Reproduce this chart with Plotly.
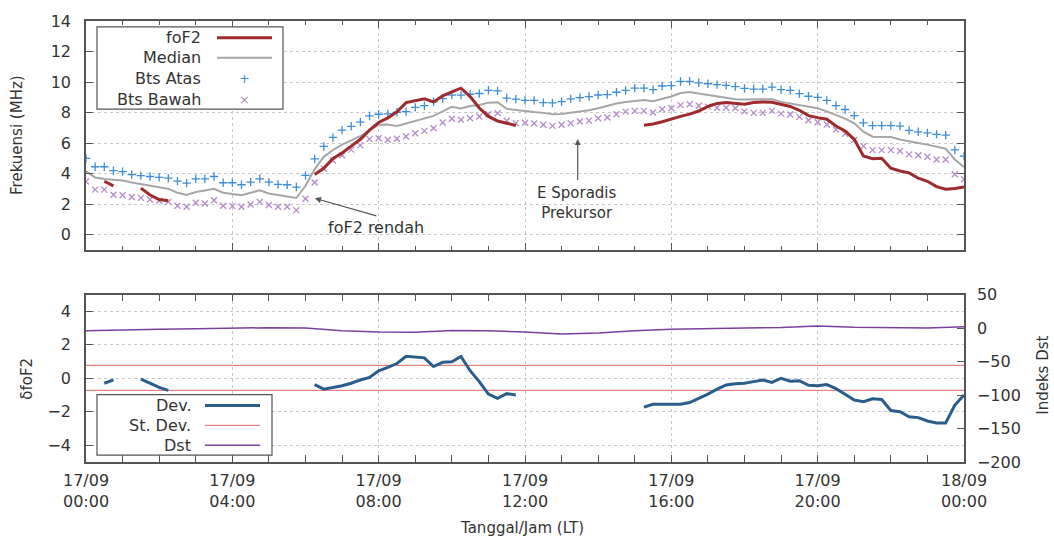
import plotly.graph_objects as go

# ---------------- data ----------------
# quarter-hour sampling (hours since 17/09 00:00 LT)
quarter_hours = [i / 4 for i in range(97)]

bts_atas = [
    5.00, 4.45, 4.45, 4.19, 4.13, 3.94, 3.87, 3.81,
    3.76, 3.70, 3.51, 3.38, 3.66, 3.66, 3.81, 3.40,
    3.40, 3.27, 3.44, 3.66, 3.44, 3.29, 3.27, 3.12,
    3.88, 4.96, 5.78, 6.37, 6.85, 7.10, 7.38, 7.78,
    7.89, 7.91, 8.02, 8.06, 8.34, 8.45, 8.71, 8.92,
    9.14, 9.14, 9.20, 9.25, 9.46, 9.42, 8.95, 8.88,
    8.80, 8.80, 8.65, 8.63, 8.72, 8.90, 8.98, 9.05,
    9.15, 9.18, 9.33, 9.45, 9.60, 9.60, 9.50, 9.74,
    9.77, 10.04, 10.05, 9.95, 9.89, 9.83, 9.78, 9.70,
    9.58, 9.54, 9.54, 9.67, 9.50, 9.46, 9.24, 9.07,
    9.00, 8.80, 8.46, 8.20, 7.80, 7.33, 7.15, 7.15,
    7.15, 7.11, 6.83, 6.74, 6.67, 6.57, 6.52, 5.55,
    5.15]

bts_bawah = [
    3.48, 2.95, 2.95, 2.62, 2.58, 2.47, 2.41, 2.30,
    2.22, 2.15, 1.89, 1.83, 2.09, 2.04, 2.26, 1.89,
    1.87, 1.83, 1.98, 2.15, 1.94, 1.83, 1.83, 1.61,
    2.35, 3.42, 4.34, 4.86, 5.20, 5.57, 5.85, 6.26,
    6.32, 6.22, 6.28, 6.43, 6.65, 6.80, 6.97, 7.35,
    7.60, 7.53, 7.63, 7.74, 7.89, 7.96, 7.46, 7.31,
    7.33, 7.28, 7.20, 7.13, 7.20, 7.30, 7.42, 7.47,
    7.63, 7.68, 7.89, 8.06, 8.11, 8.11, 8.00, 8.22,
    8.28, 8.49, 8.54, 8.45, 8.39, 8.32, 8.32, 8.28,
    8.08, 7.98, 7.98, 8.13, 7.93, 7.87, 7.72, 7.50,
    7.37, 7.22, 6.89, 6.61, 6.20, 5.80, 5.54, 5.54,
    5.54, 5.48, 5.26, 5.20, 5.11, 4.93, 4.93, 3.96,
    3.63]

median = [
    4.15, 3.75, 3.65, 3.60, 3.55, 3.42, 3.30, 3.20,
    3.10, 3.00, 2.75, 2.60, 2.80, 2.90, 3.00, 2.75,
    2.65, 2.58, 2.75, 2.90, 2.70, 2.60, 2.50, 2.40,
    3.20, 4.30, 5.10, 5.55, 5.90, 6.15, 6.45, 6.85,
    7.20, 7.22, 7.12, 7.28, 7.45, 7.62, 7.78, 8.08,
    8.38, 8.27, 8.43, 8.50, 8.65, 8.68, 8.25, 8.17,
    8.08, 8.03, 7.98, 7.89, 7.90, 7.98, 8.06, 8.15,
    8.28, 8.45, 8.60, 8.70, 8.76, 8.82, 8.75, 8.90,
    9.05, 9.28, 9.35, 9.25, 9.15, 9.05, 8.97, 8.88,
    8.85, 8.85, 8.87, 8.88, 8.70, 8.60, 8.52, 8.40,
    8.28, 8.08, 7.85, 7.60, 7.30, 6.75, 6.42, 6.41,
    6.40, 6.24, 6.10, 6.00, 5.90, 5.78, 5.63, 4.93,
    4.43]

N = None
fof2 = [
    N, N, 3.50, 3.20, N, N, 3.05, 2.60,
    2.30, 2.22, N, N, N, N, N, N,
    N, N, N, N, N, N, N, N,
    N, 3.95, 4.35, 5.00, 5.35, 5.80, 6.25, 6.85,
    7.35, 7.65, 8.05, 8.65, 8.80, 8.90, 8.70, 9.10,
    9.35, 9.60, 9.05, 8.30, 7.75, 7.45, 7.30, 7.15,
    N, N, N, N, N, N, N, N,
    N, N, N, N, N, 7.17, 7.25, 7.40,
    7.60, 7.75, 7.90, 8.10, 8.40, 8.60, 8.66, 8.60,
    8.55, 8.66, 8.70, 8.67, 8.55, 8.40, 8.15, 7.80,
    7.67, 7.56, 7.12, 6.80, 6.25, 5.15, 4.98, 5.00,
    4.35, 4.17, 4.05, 3.70, 3.50, 3.15, 2.98, 3.02,
    3.12]

dev = [
    N, N, -0.30, -0.10, N, N, -0.05, -0.30,
    -0.55, -0.72, N, N, N, N, N, N,
    N, N, N, N, N, N, N, N,
    N, -0.38, -0.65, -0.55, -0.45, -0.30, -0.10, 0.05,
    0.45, 0.65, 0.88, 1.31, 1.25, 1.22, 0.70, 0.95,
    0.98, 1.30, 0.45, -0.20, -0.95, -1.20, -0.92, -1.00,
    N, N, N, N, N, N, N, N,
    N, N, N, N, N, -1.72, -1.55, -1.55,
    -1.55, -1.55, -1.45, -1.20, -0.95, -0.65, -0.40, -0.33,
    -0.30, -0.20, -0.10, -0.25, 0.00, -0.18, -0.15, -0.42,
    -0.45, -0.38, -0.62, -0.95, -1.30, -1.40, -1.23, -1.27,
    -1.93, -2.00, -2.30, -2.35, -2.55, -2.67, -2.67, -1.60,
    -1.00]

# hourly Dst index
dst_hours = list(range(25))
dst = [-4, -3.5, -2, -1, 0, 0.5, 0, -4, -6, -6.5, -3.7, -4, -6,
       -9, -7.5, -4, -2, -1.5, 0, 0.8, 3, 1, 0, 0, 1.8]

# standard-deviation limits of δfoF2
stdev_span = [0, 24]
stdev_upper = 0.77
stdev_lower = -0.72

# axis ticks
major_ticks = [0, 4, 8, 12, 16, 20, 24]
tick_labels = ["17/09<br>00:00", "17/09<br>04:00", "17/09<br>08:00",
               "17/09<br>12:00", "17/09<br>16:00", "17/09<br>20:00",
               "18/09<br>00:00"]

# ---------------- style ----------------
FONT = "DejaVu Sans"
TXT = "#333333"
FRAME = "#555555"
GRID = "#c8c8c8"
C_FOF2 = "#9e2a2b"
C_MED = "#a6a6a6"
C_ATAS = "#3d8ed8"
C_BAWAH = "#b58ac8"
C_DEV = "#2b5d8c"
C_STD = "#e06666"
C_DST = "#7b3f9e"

# layout geometry (pixels)
W, H = 1054, 540
L, R, T, B = 86, 964, 17, 462


def px(x):
    return (x - L) / (R - L)


def py(y):
    return (B - y) / (B - T)


fig = go.Figure()

# ---- top panel ----
fig.add_trace(go.Scatter(x=quarter_hours, y=bts_atas, mode="markers", name="Bts Atas",
                         marker=dict(symbol="cross-thin", size=6, line=dict(color=C_ATAS, width=1.3)),
                         xaxis="x", yaxis="y"))
fig.add_trace(go.Scatter(x=quarter_hours, y=bts_bawah, mode="markers", name="Bts Bawah",
                         marker=dict(symbol="x-thin", size=6, line=dict(color=C_BAWAH, width=1.3)),
                         xaxis="x", yaxis="y"))
fig.add_trace(go.Scatter(x=quarter_hours, y=median, mode="lines", name="Median",
                         line=dict(color=C_MED, width=2), xaxis="x", yaxis="y"))
fig.add_trace(go.Scatter(x=quarter_hours, y=fof2, mode="lines", name="foF2",
                         line=dict(color=C_FOF2, width=3), connectgaps=False,
                         xaxis="x", yaxis="y"))

# ---- bottom panel ----
fig.add_trace(go.Scatter(x=stdev_span, y=[stdev_upper] * 2, mode="lines", name="St. Dev.",
                         line=dict(color=C_STD, width=1), xaxis="x2", yaxis="y2"))
fig.add_trace(go.Scatter(x=stdev_span, y=[stdev_lower] * 2, mode="lines", showlegend=False,
                         line=dict(color=C_STD, width=1), xaxis="x2", yaxis="y2"))
fig.add_trace(go.Scatter(x=dst_hours, y=dst, mode="lines", name="Dst",
                         line=dict(color=C_DST, width=1.5), xaxis="x2", yaxis="y3"))
fig.add_trace(go.Scatter(x=quarter_hours, y=dev, mode="lines", name="Dev.",
                         line=dict(color=C_DEV, width=3), connectgaps=False,
                         xaxis="x2", yaxis="y2"))

axis_common = dict(showline=True, linecolor=FRAME, linewidth=1.5, ticks="inside",
                   tickcolor=FRAME, ticklen=7, tickwidth=1, zeroline=False,
                   tickfont=dict(family=FONT, size=16, color=TXT))
grid = dict(showgrid=True, gridcolor=GRID, griddash="dot", gridwidth=1)
minor = dict(dtick=1, tick0=0, ticks="inside", ticklen=4, tickcolor=FRAME, showgrid=False)

top_dom = [py(248), 1.0]
bot_dom = [0.0, py(293)]

fig.update_layout(
    width=W, height=H,
    margin=dict(l=L, r=W - R, t=T, b=H - B),
    paper_bgcolor="white", plot_bgcolor="white",
    showlegend=False,
    font=dict(family=FONT, color=TXT, size=16),
    xaxis=dict(domain=[0, 1], anchor="y", range=[0, 24], tickvals=major_ticks,
               showticklabels=False, mirror="allticks", minor=minor, **grid, **axis_common),
    yaxis=dict(domain=top_dom, anchor="x", range=[-1, 14], tick0=0, dtick=2,
               mirror="allticks", ticklabelstandoff=10, **grid, **axis_common),
    xaxis2=dict(domain=[0, 1], anchor="y2", range=[0, 24], tickvals=major_ticks,
                ticktext=tick_labels, mirror="allticks", minor=minor,
                ticklabelstandoff=3, **grid, **axis_common),
    yaxis2=dict(domain=bot_dom, anchor="x2", range=[-5, 5], tickvals=[-4, -2, 0, 2, 4],
                mirror=True, ticklabelstandoff=10, **grid, **axis_common),
    yaxis3=dict(overlaying="y2", anchor="x2", side="right", range=[-200, 50],
                tickvals=[-200, -150, -100, -50, 0, 50], showgrid=False,
                ticklabelstandoff=8, **axis_common),
)

ann = []
shapes = []


def text(label, x, y, size=15, angle=0, xa="center", color=None, xref="paper", yref="paper"):
    f = dict(size=size)
    if color:
        f["color"] = color
    return dict(text=label, x=x, y=y, xref=xref, yref=yref, textangle=angle,
                xanchor=xa, yanchor="middle", showarrow=False, font=f)


# axis titles
ann.append(text("Frekuensi (MHz)", px(17), py(132), angle=-90))
ann.append(text("δfoF2", px(27), py(378), angle=-90))
ann.append(text("Indeks Dst", px(1043), py(375), angle=-90))
ann.append(text("Tanggal/Jam (LT)", px(522), py(529)))

# callouts in the top panel
ann.append(dict(x=6.26, y=2.38, ax=7.98, ay=1.2, xref="x", yref="y", axref="x", ayref="y",
                text="", showarrow=True, arrowhead=2, arrowsize=1, arrowwidth=1.2,
                arrowcolor="#555555"))
ann.append(text("foF2 rendah", 7.92, 0.5, size=16, xref="x", yref="y"))
ann.append(dict(x=13.44, y=6.27, ax=13.44, ay=3.48, xref="x", yref="y", axref="x", ayref="y",
                text="", showarrow=True, arrowhead=2, arrowsize=1, arrowwidth=1.2,
                arrowcolor="#555555"))
ann.append(text("E Sporadis<br>Prekursor", 13.43, 2.08, size=15, xref="x", yref="y"))

# top legend (gnuplot style: text right-aligned, sample on the right)
shapes.append(dict(type="rect", xref="paper", yref="paper", x0=px(97), x1=px(283),
                   y0=py(106), y1=py(23), line=dict(color=FRAME, width=1.2),
                   fillcolor="white", layer="above"))
top_rows = [("foF2", 34), ("Median", 54), ("Bts Atas", 75), ("Bts Bawah", 96)]
for label, yy in top_rows:
    ann.append(text(label, px(203), py(yy), size=16, xa="right"))
shapes.append(dict(type="line", xref="paper", yref="paper", x0=px(217), x1=px(272),
                   y0=py(34), y1=py(34), line=dict(color=C_FOF2, width=3), layer="above"))
shapes.append(dict(type="line", xref="paper", yref="paper", x0=px(217), x1=px(272),
                   y0=py(54), y1=py(54), line=dict(color=C_MED, width=2), layer="above"))
ann.append(text("+", px(244), py(75), size=13, color=C_ATAS))
ann.append(text("×", px(244), py(96), size=13, color=C_BAWAH))

# bottom legend
shapes.append(dict(type="rect", xref="paper", yref="paper", x0=px(97), x1=px(272),
                   y0=py(455), y1=py(394), line=dict(color=FRAME, width=1.2),
                   fillcolor="white", layer="above"))
bot_rows = [("Dev.", 405, C_DEV, 3), ("St. Dev.", 425, C_STD, 1), ("Dst", 445, C_DST, 1.5)]
for label, yy, col, wd in bot_rows:
    ann.append(text(label, px(193), py(yy), size=16, xa="right"))
    shapes.append(dict(type="line", xref="paper", yref="paper", x0=px(205), x1=px(260),
                       y0=py(yy), y1=py(yy), line=dict(color=col, width=wd), layer="above"))

fig.update_layout(annotations=ann, shapes=shapes)

fig.write_html("out.html")
